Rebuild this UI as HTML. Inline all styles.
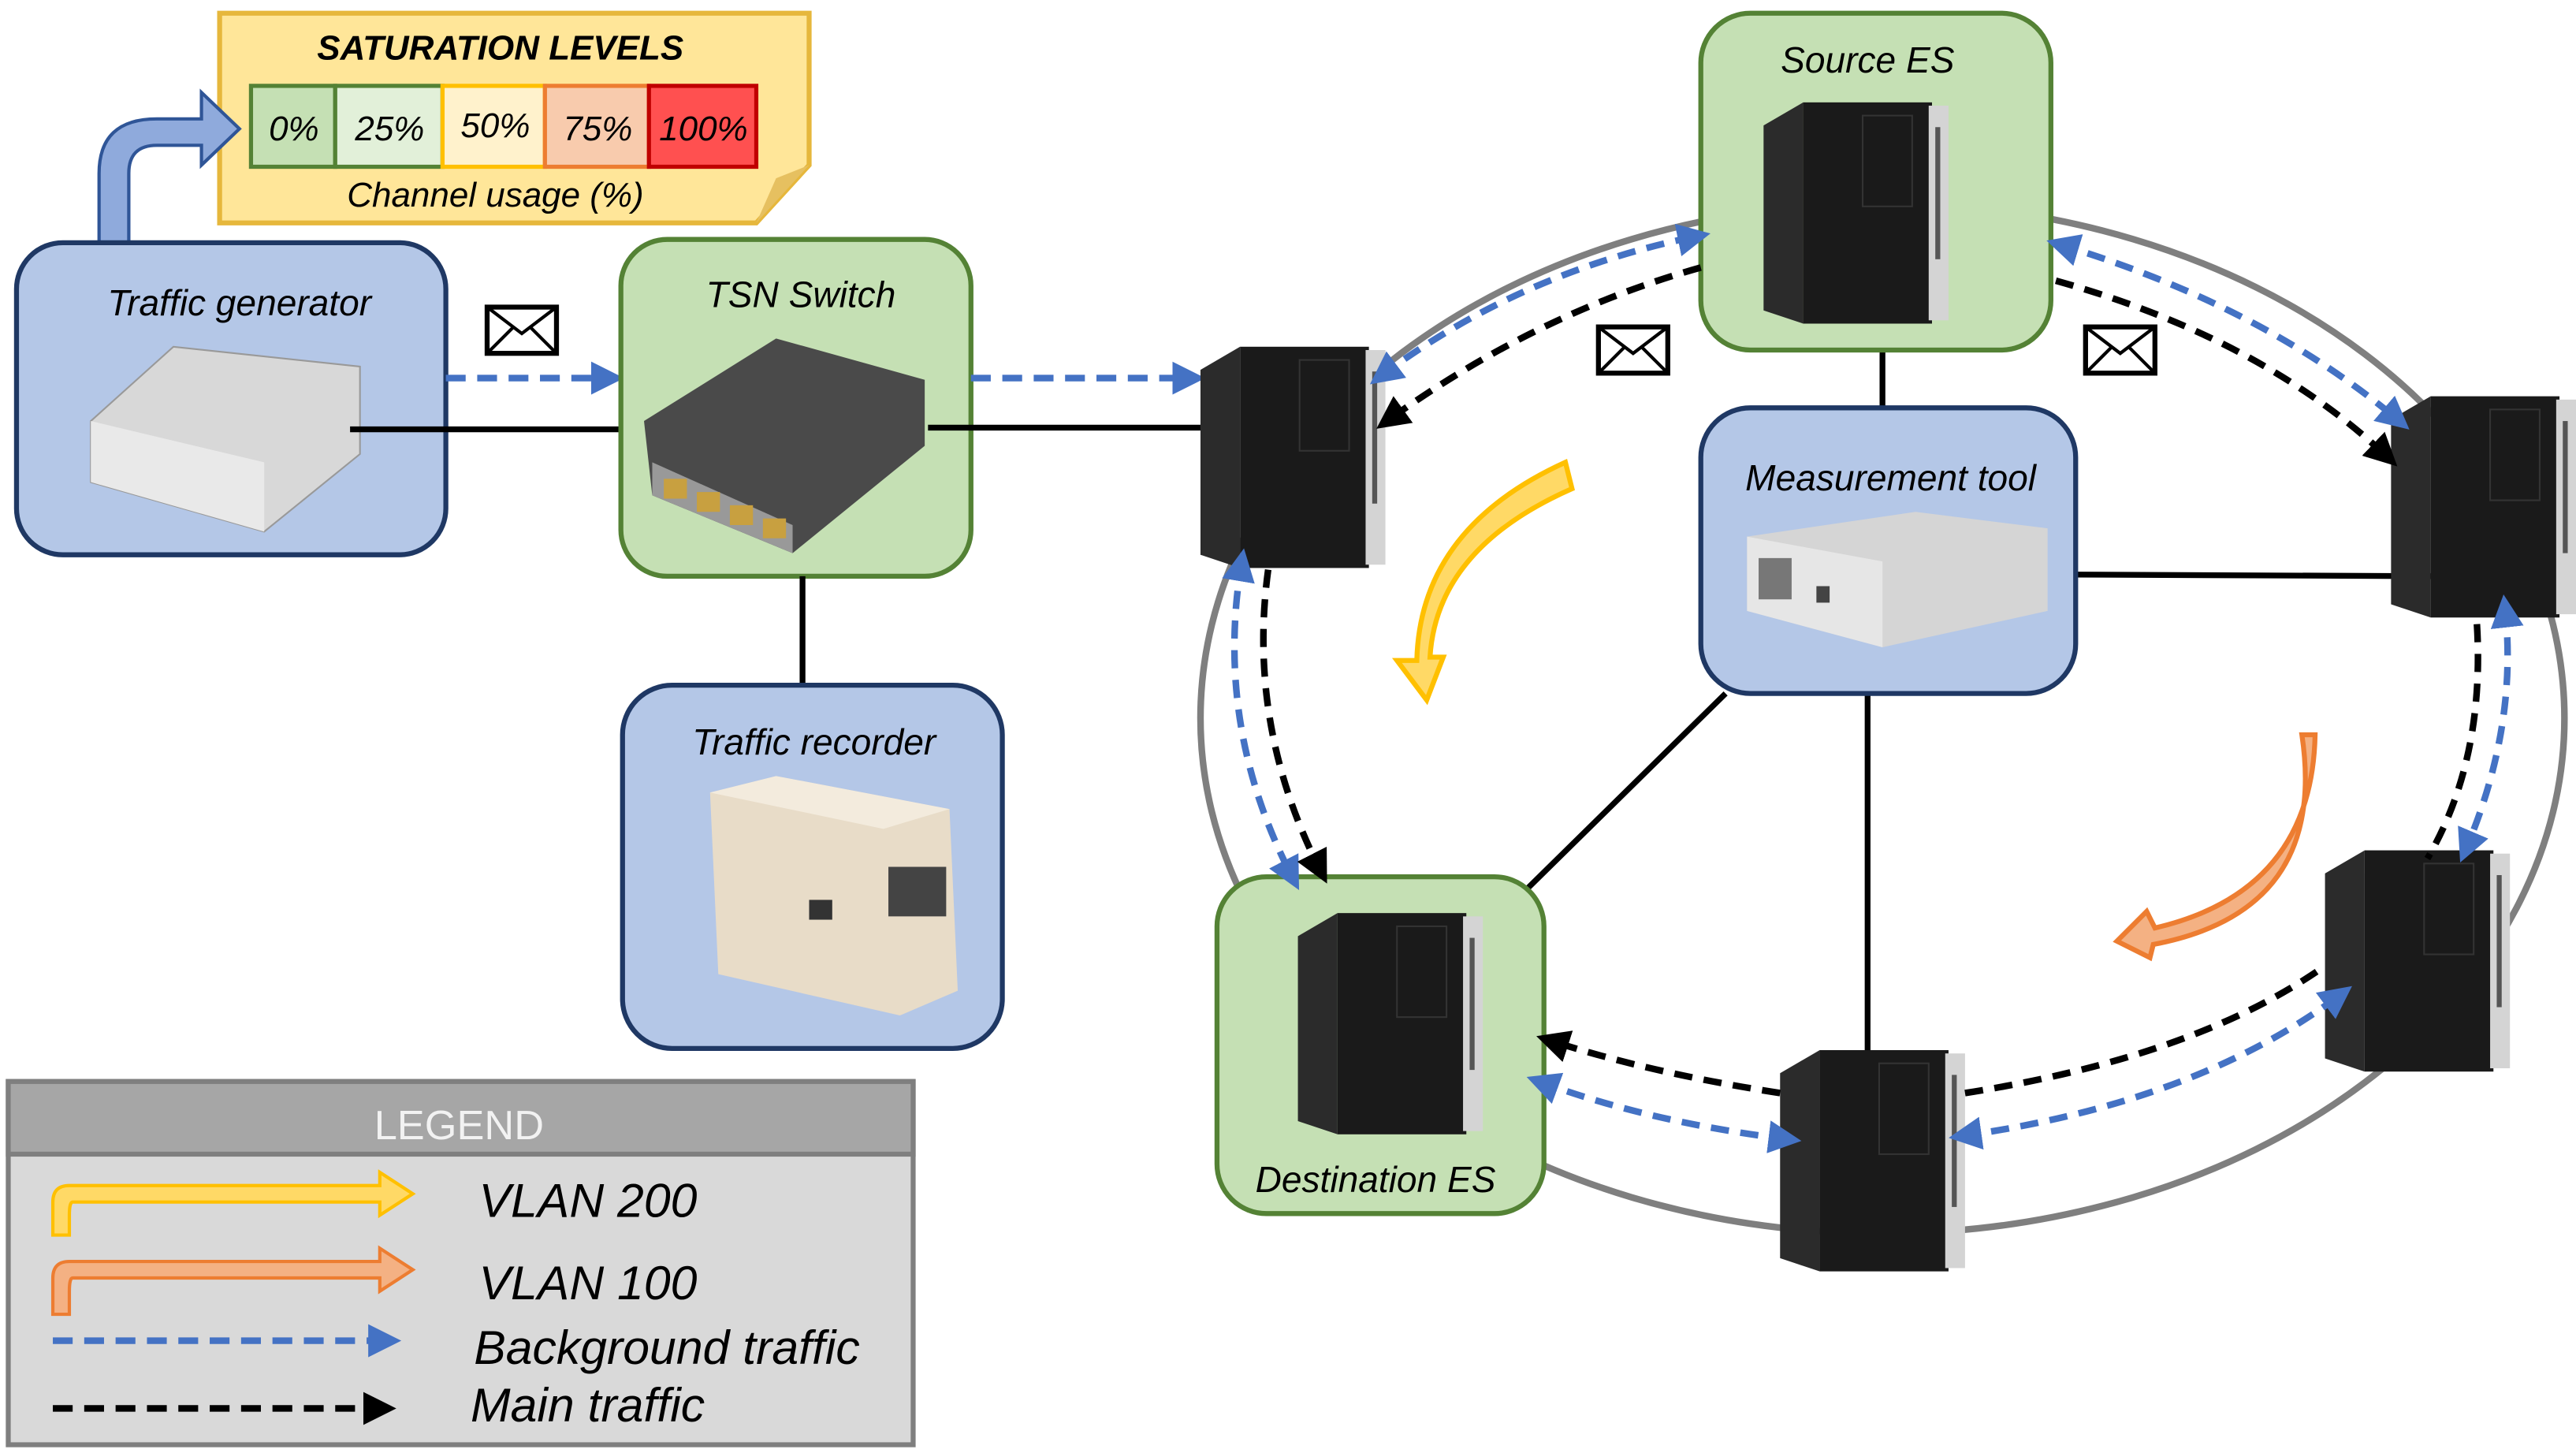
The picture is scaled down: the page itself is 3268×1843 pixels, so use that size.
<!DOCTYPE html>
<html><head><meta charset="utf-8"><style>html,body{margin:0;padding:0;background:#fff}svg{display:block}</style></head>
<body>
<svg width="3268" height="1843" viewBox="0 0 1560 880" preserveAspectRatio="none" xmlns="http://www.w3.org/2000/svg" font-family="Liberation Sans, sans-serif" font-style="italic">
<defs>
<marker id="mb" markerWidth="5" markerHeight="5" refX="3" refY="2.5" orient="auto" markerUnits="strokeWidth"><path d="M0,0 L5,2.5 L0,5 z" fill="#4472c4"/></marker>
<marker id="mbs" markerWidth="5" markerHeight="5" refX="2" refY="2.5" orient="auto" markerUnits="strokeWidth"><path d="M5,0 L0,2.5 L5,5 z" fill="#4472c4"/></marker>
<marker id="mk" markerWidth="5" markerHeight="5" refX="3" refY="2.5" orient="auto" markerUnits="strokeWidth"><path d="M0,0 L5,2.5 L0,5 z" fill="#000"/></marker>
<g id="pc">
<polygon points="0,14 24,0 24,134 0,126" fill="#2b2b2b"/>
<rect x="24" y="0" width="78" height="134" fill="#1a1a1a"/>
<rect x="60" y="8" width="30" height="55" fill="none" stroke="#333"/>
<rect x="100" y="2" width="12" height="130" fill="#d4d4d4"/>
<rect x="104" y="15" width="3" height="80" fill="#555"/>
</g>
<g id="env"><rect x="0" y="0" width="42" height="28" fill="#fff" stroke="#000" stroke-width="3"/><path d="M0,0 L21,16 L42,0 M0,28 L16,12 M42,28 L26,12" fill="none" stroke="#000" stroke-width="2"/></g>
</defs>

<path d="M133,8 H490 V100 L458,135 H133 Z" fill="#ffe699" stroke="#e6b73c" stroke-width="3"/>
<path d="M490,100 L470,108 L458,135 Z" fill="#e6c060"/>
<text x="303" y="36" font-size="21" font-weight="bold" text-anchor="middle">SATURATION LEVELS</text>
<rect x="152" y="52" width="51" height="49" fill="#c5e0b4" stroke="#548235" stroke-width="2.5"/>
<rect x="203" y="52" width="65" height="49" fill="#e2f0d9" stroke="#548235" stroke-width="2.5"/>
<rect x="268" y="52" width="62" height="49" fill="#fff2cc" stroke="#ffc000" stroke-width="2.5"/>
<rect x="330" y="52" width="63" height="49" fill="#f8cbad" stroke="#ed7d31" stroke-width="2.5"/>
<rect x="393" y="52" width="65" height="49" fill="#ff5050" stroke="#c00000" stroke-width="2.5"/>
<g font-size="21" text-anchor="middle"><text x="178" y="85">0%</text><text x="236" y="85">25%</text><text x="300" y="83">50%</text><text x="362" y="85">75%</text><text x="426" y="85">100%</text></g>
<text x="300" y="125" font-size="21" text-anchor="middle">Channel usage (%)</text>

<path d="M60,157 V105 Q60,72 95,72 H122 V56 L145,78 L122,100 V88 H95 Q78,88 78,105 V157 Z" fill="#8faadc" stroke="#2f5597" stroke-width="2"/>

<rect x="10" y="147" width="260" height="189" rx="28" fill="#b4c7e7" stroke="#1f3864" stroke-width="3"/>
<text x="145" y="191" font-size="22" text-anchor="middle">Traffic generator</text>
<polygon points="55,255 105,210 218,222 218,275 160,322 55,292" fill="#d8d8d8" stroke="#999"/>
<polygon points="55,255 160,280 160,322 55,292" fill="#e9e9e9"/>
<line x1="212" y1="260" x2="385" y2="260" stroke="#000" stroke-width="3.5"/>
<use href="#env" x="295" y="186"/>
<line x1="270" y1="229" x2="370" y2="229" stroke="#4472c4" stroke-width="4" stroke-dasharray="12,7" marker-end="url(#mb)"/>

<rect x="376" y="145" width="212" height="204" rx="28" fill="#c5e0b4" stroke="#548235" stroke-width="3"/>
<text x="485" y="186" font-size="22" text-anchor="middle">TSN Switch</text>
<polygon points="390,255 470,205 560,230 560,270 480,335 395,300" fill="#4a4a4a"/>
<polygon points="395,280 480,318 480,335 395,300" fill="#999"/>
<g fill="#c8a040"><rect x="402" y="290" width="14" height="12"/><rect x="422" y="298" width="14" height="12"/><rect x="442" y="306" width="14" height="12"/><rect x="462" y="314" width="14" height="12"/></g>
<line x1="562" y1="259" x2="727" y2="259" stroke="#000" stroke-width="3.5"/>
<line x1="588" y1="229" x2="722" y2="229" stroke="#4472c4" stroke-width="4" stroke-dasharray="12,7" marker-end="url(#mb)"/>
<line x1="486" y1="349" x2="486" y2="415" stroke="#000" stroke-width="3.5"/>

<rect x="377" y="415" width="230" height="220" rx="30" fill="#b4c7e7" stroke="#1f3864" stroke-width="3"/>
<text x="493" y="457" font-size="22" text-anchor="middle">Traffic recorder</text>
<polygon points="430,480 470,470 575,490 580,600 545,615 435,590" fill="#e8dcc8"/>
<polygon points="430,480 470,470 575,490 535,502" fill="#f3ebdd"/>
<rect x="490" y="545" width="14" height="12" fill="#333"/><rect x="538" y="525" width="35" height="30" fill="#444"/>

<ellipse cx="1140" cy="435" rx="413" ry="312" fill="none" stroke="#7f7f7f" stroke-width="4"/>

<line x1="1140" y1="212" x2="1140" y2="247" stroke="#000" stroke-width="3.5"/>
<line x1="1257" y1="348" x2="1482" y2="349" stroke="#000" stroke-width="3.5"/>
<line x1="1131" y1="420" x2="1131" y2="640" stroke="#000" stroke-width="3.5"/>
<line x1="1045" y1="420" x2="918" y2="545" stroke="#000" stroke-width="3.5"/>

<rect x="1030" y="8" width="212" height="204" rx="30" fill="#c5e0b4" stroke="#548235" stroke-width="3"/>
<text x="1131" y="44" font-size="22" text-anchor="middle">Source ES</text>
<rect x="737" y="531" width="198" height="204" rx="30" fill="#c5e0b4" stroke="#548235" stroke-width="3"/>
<text x="833" y="722" font-size="22" text-anchor="middle">Destination ES</text>
<rect x="1030" y="247" width="227" height="173" rx="30" fill="#b4c7e7" stroke="#1f3864" stroke-width="3"/>
<text x="1145" y="297" font-size="22" text-anchor="middle">Measurement tool</text>
<polygon points="1058,325 1160,310 1240,320 1240,370 1140,392 1058,370" fill="#d5d5d5"/>
<polygon points="1058,325 1140,340 1140,392 1058,370" fill="#e6e6e6"/>
<rect x="1065" y="338" width="20" height="25" fill="#777"/><rect x="1100" y="355" width="8" height="10" fill="#444"/>

<use href="#pc" x="727" y="210"/>
<use href="#pc" x="1068" y="62"/>
<use href="#pc" x="1448" y="240"/>
<use href="#pc" x="1408" y="515"/>
<use href="#pc" x="1078" y="636"/>
<use href="#pc" x="786" y="553"/>

<g fill="none" stroke-width="4" stroke-dasharray="11,7">
<path d="M836,228 Q920,165 1028,143" stroke="#4472c4" marker-start="url(#mbs)" marker-end="url(#mb)"/>
<path d="M1030,162 Q930,190 840,255" stroke="#000" marker-end="url(#mk)"/>
<path d="M1247,148 Q1370,185 1453,255" stroke="#4472c4" marker-start="url(#mbs)" marker-end="url(#mb)"/>
<path d="M1245,170 Q1370,205 1446,277" stroke="#000" marker-end="url(#mk)"/>
<path d="M752,340 Q735,440 783,532" stroke="#4472c4" marker-start="url(#mbs)" marker-end="url(#mb)"/>
<path d="M768,345 Q755,440 800,528" stroke="#000" marker-end="url(#mk)"/>
<path d="M1517,368 Q1525,440 1493,515" stroke="#4472c4" marker-start="url(#mbs)" marker-end="url(#mb)"/>
<path d="M1500,378 Q1505,460 1470,520" stroke="#000"/>
<path d="M1078,662 Q1000,650 938,630" stroke="#000" marker-end="url(#mk)"/>
<path d="M932,655 Q1000,680 1083,690" stroke="#4472c4" marker-start="url(#mbs)" marker-end="url(#mb)"/>
<path d="M1188,688 Q1330,668 1418,602" stroke="#4472c4" marker-start="url(#mbs)" marker-end="url(#mb)"/>
<path d="M1190,662 Q1330,640 1408,585" stroke="#000"/>
</g>
<use href="#env" x="968" y="198"/>
<use href="#env" x="1263" y="198"/>

<path d="M948,280 Q860,320 858,400 L846,400 L864,424 L874,398 L866,398 Q870,332 952,296 Z" fill="#ffd966" stroke="#ffc000" stroke-width="3"/>
<path d="M1402,445 Q1400,540 1305,562 L1300,552 L1282,570 L1302,580 L1304,572 Q1410,552 1394,445 Z" fill="#f4b183" stroke="#ed7d31" stroke-width="3"/>

<rect x="5" y="655" width="548" height="220" fill="#d9d9d9" stroke="#7f7f7f" stroke-width="3"/>
<rect x="5" y="655" width="548" height="44" fill="#a6a6a6" stroke="#7f7f7f" stroke-width="3"/>
<text x="278" y="690" font-size="25" font-style="normal" fill="#f2f2f2" text-anchor="middle">LEGEND</text>
<path d="M32,748 V728 Q32,718 42,718 H230 V710 L250,723 L230,736 V728 H44 Q42,728 42,736 V748 Z" fill="#ffd966" stroke="#ffc000" stroke-width="2"/>
<path d="M32,796 V774 Q32,764 42,764 H230 V756 L250,769 L230,782 V774 H44 Q42,774 42,782 V796 Z" fill="#f4b183" stroke="#ed7d31" stroke-width="2"/>
<line x1="32" y1="812" x2="235" y2="812" stroke="#4472c4" stroke-width="4" stroke-dasharray="12,7" marker-end="url(#mb)"/>
<line x1="32" y1="853" x2="232" y2="853" stroke="#000" stroke-width="4" stroke-dasharray="12,7" marker-end="url(#mk)"/>
<g font-size="29"><text x="290" y="737">VLAN 200</text><text x="290" y="787">VLAN 100</text><text x="287" y="826">Background traffic</text><text x="285" y="861">Main traffic</text></g>
</svg>
</body></html>
